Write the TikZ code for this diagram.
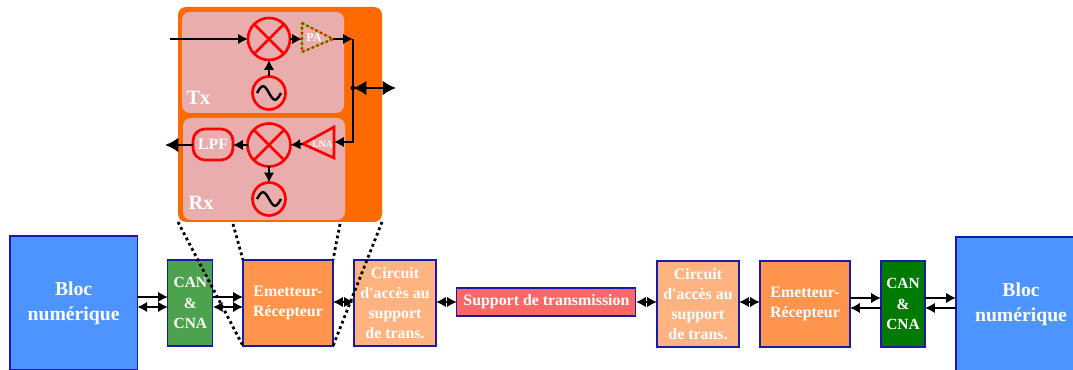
\documentclass[tikz,border=0pt]{standalone}
\usepackage{fontspec}
\setmainfont{Liberation Serif}
\usetikzlibrary{calc,arrows.meta}
\definecolor{bordblue}{HTML}{1A1AA8}
\definecolor{blocblue}{HTML}{4D94FF}
\definecolor{canlight}{HTML}{4DA34D}
\definecolor{candark}{HTML}{007A00}
\definecolor{emetorange}{HTML}{FF944D}
\definecolor{circpeach}{HTML}{FFB380}
\definecolor{supportred}{HTML}{FF6666}
\definecolor{radioorange}{HTML}{FF6A00}
\definecolor{panepink}{HTML}{E9ADAD}
\definecolor{padotgreen}{HTML}{66DD33}
\tikzset{>={Latex[length=7pt,width=7.5pt]}}
\tikzset{
    blocbox/.style={draw=bordblue,line width=0.8pt,inner sep=0pt,outer sep=0pt,text=white,align=center,font=\bfseries\fontsize{11.3}{14.3}\selectfont},
    panebox/.style={fill=panepink,rounded corners=0.2cm,inner sep=0pt,outer sep=0pt,minimum width=4.05cm},
    mixcircle/.style={circle,draw=red,line width=1.9pt,fill=panepink,inner sep=0pt,outer sep=0pt},
    wire/.style={line width=1.6pt},
    wirebig/.style={line width=1.7pt,>={Latex[length=9.5pt,width=10.5pt]}},
    linkdots/.style={line width=2pt,dash pattern=on 2pt off 2.2pt},
    panelabel/.style={text=white,inner sep=0pt,font=\bfseries\fontsize{14.5}{16}\selectfont}
}
\begin{document}
\begin{tikzpicture}
    \useasboundingbox (0,0) rectangle (26.825,9.25);
    %%%
    \node[blocbox,fill=blocblue,minimum width=3.18cm,minimum height=3.35cm,font=\bfseries\fontsize{14}{18}\selectfont] (blocL) at (1.84,1.675) {Bloc\\numérique};
    \node[blocbox,fill=canlight,minimum width=1.125cm,minimum height=2.15cm,font=\bfseries\fontsize{11}{14.8}\selectfont] (canL) at (4.76,1.675) {CAN\\\&\\CNA};
    \node[blocbox,fill=emetorange,minimum width=2.25cm,minimum height=2.15cm] (emetL) at (7.2,1.675) {Emetteur-\\Récepteur};
    \node[blocbox,fill=circpeach,minimum width=2.05cm,minimum height=2.15cm] (circL) at (9.875,1.675) {Circuit\\d\textquotesingle accès au\\support\\de trans.};
    \node[blocbox,fill=supportred,minimum width=4.475cm,minimum height=0.7cm] (support) at (13.66,1.7) {Support de transmission};
    \node[blocbox,fill=circpeach,minimum width=2.05cm,minimum height=2.15cm] (circR) at (17.45,1.65) {Circuit\\d\textquotesingle accès au\\support\\de trans.};
    \node[blocbox,fill=emetorange,minimum width=2.25cm,minimum height=2.15cm] (emetR) at (20.125,1.65) {Emetteur-\\Récepteur};
    \node[blocbox,fill=candark,minimum width=1.1cm,minimum height=2.15cm,font=\bfseries\fontsize{11}{14.8}\selectfont] (canR) at (22.575,1.65) {CAN\\\&\\CNA};
    \node[blocbox,fill=blocblue,minimum width=3.25cm,minimum height=3.35cm,font=\bfseries\fontsize{14}{18}\selectfont] (blocR) at (25.525,1.65) {Bloc\\numérique};
    %%%
    \draw[wire,->] ([yshift=0.15cm]blocL.east) -- ([yshift=0.15cm]canL.west);
    \draw[wire,<->] ([yshift=-0.1cm]blocL.east) -- ([yshift=-0.1cm]canL.west);
    \draw[wire,->] ([yshift=0.15cm]canL.east) -- ([yshift=0.15cm]emetL.west);
    \draw[wire,<->] ([yshift=-0.1cm]canL.east) -- ([yshift=-0.1cm]emetL.west);
    \draw[wire,<->] ([yshift=0.025cm]emetL.east) -- ([yshift=0.025cm]circL.east -| circL.west);
    \draw[wire,<->] (circL.east |- support.west) -- (support.west);
    \draw[wire,<->] (support.east) -- (support.east -| circR.west);
    \draw[wire,<->] (circR.east |- support.east) -- (emetR.west |- support.east);
    \draw[wire,->] ([yshift=0.15cm]emetR.east) -- ([yshift=0.15cm]canR.west);
    \draw[wire,<-] ([yshift=-0.1cm]emetR.east) -- ([yshift=-0.1cm]canR.west);
    \draw[wire,->] ([yshift=0.15cm]canR.east) -- ([yshift=0.15cm]blocR.west);
    \draw[wire,<-] ([yshift=-0.1cm]canR.east) -- ([yshift=-0.1cm]blocR.west);
    %%%
    \node[fill=radioorange,rounded corners=0.2cm,inner sep=0pt,outer sep=0pt,minimum width=5.1cm,minimum height=5.375cm] (radio) at (7,6.3875) {};
    \node[panebox,minimum height=2.525cm] (paneTx) at (6.575,7.6875) {};
    \node[panebox,minimum height=2.55cm] (paneRx) at (6.6,5.025) {};
    \node[panelabel] (labelTx) at (4.96,6.8) {Tx};
    \node[panelabel] (labelRx) at (5.03,4.17) {Rx};
    %%%
    \node[mixcircle,minimum size=1.05cm] (mixTx) at (6.725,8.275) {};
    \draw[red,line width=1.9pt] (mixTx.45) -- (mixTx.225) (mixTx.135) -- (mixTx.315);
    \node[mixcircle,minimum size=0.825cm] (oscTx) at (6.725,6.925) {};
    \draw[line width=1.7pt] ($(oscTx)+(-0.3,0)$) sin ($(oscTx)+(-0.15,0.17)$) cos (oscTx) sin ($(oscTx)+(0.15,-0.17)$) cos ($(oscTx)+(0.3,0)$);
    \coordinate (paTop) at (7.55,8.675);
    \coordinate (paTip) at (8.325,8.275);
    \coordinate (paBot) at (7.55,7.95);
    \coordinate (paIn) at (7.55,8.275);
    \draw[padotgreen,line width=1.5pt] (paTop) -- (paTip) -- (paBot) -- cycle;
    \draw[red,line width=1.5pt,dash pattern=on 1.6pt off 2pt] (paTop) -- (paTip) -- (paBot) -- cycle;
    \node[text=white,inner sep=0pt,font=\bfseries\fontsize{8.5}{9}\selectfont] (paText) at (7.85,8.31) {PA};
    %%%
    \node[mixcircle,minimum size=1.075cm] (mixRx) at (6.725,5.625) {};
    \draw[red,line width=1.9pt] (mixRx.45) -- (mixRx.225) (mixRx.135) -- (mixRx.315);
    \node[mixcircle,minimum size=0.825cm] (oscRx) at (6.725,4.275) {};
    \draw[line width=1.7pt] ($(oscRx)+(-0.3,0)$) sin ($(oscRx)+(-0.15,0.17)$) cos (oscRx) sin ($(oscRx)+(0.15,-0.17)$) cos ($(oscRx)+(0.3,0)$);
    \node[draw=red,line width=1.9pt,rounded corners=0.3cm,inner sep=0pt,outer sep=0pt,minimum width=1cm,minimum height=0.775cm,text=white,font=\bfseries\fontsize{11.3}{13}\selectfont] (lpf) at (5.325,5.6375) {LPF};
    \coordinate (lnaTip) at (7.575,5.65);
    \coordinate (lnaTop) at (8.35,6.075);
    \coordinate (lnaBot) at (8.35,5.3);
    \coordinate (lnaIn) at (8.35,5.7);
    \draw[red,line width=1.9pt] (lnaTip) -- (lnaTop) -- (lnaBot) -- cycle;
    \node[text=white,inner sep=0pt,font=\bfseries\fontsize{7}{8}\selectfont] (lnaText) at (8.06,5.65) {LNA};
    %%%
    \coordinate (inTx) at (4.25,8.275);
    \coordinate (outRx) at (4.125,5.625);
    \coordinate (busTop) at (8.825,8.275);
    \coordinate (busBot) at (8.825,5.7);
    \coordinate (busDot) at (8.825,7.05);
    \coordinate (busEnd) at (9.9,7.05);
    \draw[wire,->] (inTx) -- (mixTx.west);
    \draw[wire,->] (mixTx.east) -- (paIn);
    \draw[wire,->] (oscTx.north) -- (mixTx.south);
    \draw[wire,->] (paTip) -- (busTop);
    \draw[wire,->] (busTop) -- (busBot) -- (lnaIn);
    \fill (busDot) circle (0.06);
    \draw[wirebig,<->] (busDot) -- (busEnd);
    \draw[wire,->] (lnaTip) -- (mixRx.east);
    \draw[wire,->] (mixRx.west) -- (lpf.east |- mixRx.west);
    \draw[wire,->] (mixRx.south) -- (oscRx.north);
    \draw[wirebig,->] (lpf.west |- outRx) -- (outRx);
    %%%
    \coordinate (linkA) at (5.825,3.65);
    \coordinate (linkB) at (8.5,3.65);
    \draw[linkdots] (radio.south west) -- (emetL.south west);
    \draw[linkdots] (linkA) -- (emetL.north west);
    \draw[linkdots] (linkB) -- (emetL.north east);
    \draw[linkdots] (radio.south east) -- (emetL.south east);
\end{tikzpicture}
\end{document}
